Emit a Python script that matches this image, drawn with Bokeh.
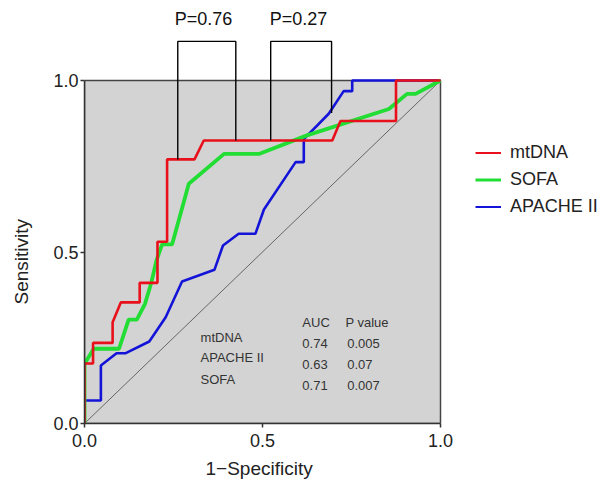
from bokeh.plotting import figure
from bokeh.layouts import row
from bokeh.models import Range1d, FixedTicker, NumeralTickFormatter, Legend, LegendItem, Title
from bokeh.core.properties import value
from bokeh.embed import file_html
from bokeh.resources import INLINE

# ROC curve vertices (1-specificity, sensitivity)
mtdna_fpr = [0, 0, 0.024, 0.024, 0.079, 0.079, 0.102, 0.155, 0.155, 0.205, 0.205, 0.232, 0.232, 0.309, 0.335, 0.696, 0.719, 0.875, 0.875, 1.0]
mtdna_tpr = [0, 0.175, 0.175, 0.235, 0.235, 0.295, 0.353, 0.353, 0.41, 0.41, 0.53, 0.53, 0.77, 0.77, 0.825, 0.825, 0.882, 0.882, 1.0, 1.0]

sofa_fpr = [0, 0, 0.026, 0.097, 0.124, 0.147, 0.170, 0.188, 0.202, 0.218, 0.246, 0.293, 0.392, 0.49, 0.625, 0.855, 0.906, 0.93, 1.0]
sofa_tpr = [0, 0.174, 0.218, 0.218, 0.303, 0.303, 0.349, 0.412, 0.475, 0.522, 0.522, 0.699, 0.786, 0.786, 0.84, 0.917, 0.961, 0.961, 1.0]

apache_fpr = [0, 0, 0.046, 0.046, 0.09, 0.116, 0.182, 0.228, 0.274, 0.365, 0.389, 0.433, 0.48, 0.504, 0.593, 0.616, 0.616, 0.686, 0.728, 0.752, 0.752, 1.0]
apache_tpr = [0, 0.067, 0.067, 0.169, 0.205, 0.205, 0.239, 0.31, 0.414, 0.448, 0.519, 0.553, 0.553, 0.624, 0.762, 0.762, 0.829, 0.903, 0.969, 0.969, 1.0, 1.0]

series_names = ["mtDNA", "SOFA", "APACHE II"]
table_labels = ["mtDNA", "APACHE II", "SOFA"]
table_auc = ["0.74", "0.63", "0.71"]
table_p = ["0.005", "0.07", "0.007"]
p_labels = ["P=0.76", "P=0.27"]
axis_ticks = [0, 0.5, 1.0]
x_title = "1\u2212Specificity"
y_title = "Sensitivity"

FONT = "Liberation Sans"
RED = "#E8101A"
GREEN = "#22DD33"
BLUE = "#1414D8"

# narrow strip whose left title carries the vertical axis title
side = figure(width=44, height=484, x_range=Range1d(0, 1), y_range=Range1d(0, 1),
              x_axis_type=None, y_axis_type=None,
              min_border_left=0, min_border_right=0, min_border_top=0, min_border_bottom=0,
              output_backend="svg", toolbar_location=None)
side.outline_line_color = None
side.grid.visible = False
side.add_layout(Title(text=y_title, align="left", offset=119, standoff=16,
                      text_font=FONT, text_font_size="19px", text_font_style="normal",
                      text_color="#222222"), "left")

p = figure(width=556, height=484,
           x_range=Range1d(0, 516 / 356), y_range=Range1d(0, 423 / 343),
           min_border_left=40, min_border_right=0, min_border_top=0, min_border_bottom=61,
           output_backend="svg", toolbar_location=None)
p.outline_line_color = None
p.grid.visible = False
p.background_fill_color = "white"

# gray panel
p.quad(left=[0], right=[1], bottom=[0], top=[1], fill_color="#D3D3D3", line_color="#444444", line_width=1.5)
# diagonal reference
p.line([0, 1], [0, 1], line_color="#666666", line_width=1)

# curves
p.line(apache_fpr, apache_tpr, line_color=BLUE, line_width=2.6)
p.line(sofa_fpr, sofa_tpr, line_color=GREEN, line_width=3.8)
p.line(mtdna_fpr, mtdna_tpr, line_color=RED, line_width=2.6)

# comparison brackets
top_y = 1.114
br1 = ([0.262, 0.262, 0.425, 0.425], [0.77, top_y, top_y, 0.825])
br2 = ([0.523, 0.523, 0.694, 0.694], [0.825, top_y, top_y, 0.905])
for bx, by in (br1, br2):
    p.line(bx, by, line_color="black", line_width=1.4)
p.text(x=[0.334, 0.601], y=[1.178, 1.178], text=p_labels, text_font=value(FONT),
       text_font_size="18px", text_align="center", text_baseline="middle", text_color="#111111")

# AUC table
tstyle = dict(text_font=value(FONT), text_font_size="13px", text_align="left",
              text_baseline="middle", text_color="#333333")
p.text(x=[0.326] * 3, y=[0.252, 0.1915, 0.128], text=table_labels, **tstyle)
p.text(x=[0.612, 0.733], y=[0.295, 0.295], text=["AUC", "P value"], **tstyle)
p.text(x=[0.612] * 3, y=[0.232, 0.171, 0.111], text=table_auc, **tstyle)
p.text(x=[0.738] * 3, y=[0.232, 0.171, 0.111], text=table_p, **tstyle)

# legend with thinner sample lines (renderers kept off-range)
lr = p.line([-5, -4], [-5, -4], line_color=RED, line_width=2)
lg = p.line([-5, -4], [-5, -4], line_color=GREEN, line_width=3)
lb = p.line([-5, -4], [-5, -4], line_color=BLUE, line_width=2)
legend = Legend(items=[LegendItem(label=series_names[0], renderers=[lr]),
                       LegendItem(label=series_names[1], renderers=[lg]),
                       LegendItem(label=series_names[2], renderers=[lb])],
                location=(391, 203), padding=0, margin=0, spacing=0,
                glyph_width=26, glyph_height=27, label_height=27, label_standoff=9,
                label_text_font=FONT, label_text_font_size="18px", label_text_color="#222222",
                border_line_alpha=0, background_fill_alpha=0)
p.add_layout(legend)

for ax in (p.xaxis[0], p.yaxis[0]):
    ax.bounds = (0, 1)
    ax.ticker = FixedTicker(ticks=axis_ticks)
    ax.formatter = NumeralTickFormatter(format="0.0")
    ax.minor_tick_line_color = None
    ax.major_tick_in = 0
    ax.major_tick_out = 4
    ax.axis_line_color = "#333333"
    ax.axis_line_width = 1.5
    ax.major_tick_line_color = "#333333"
    ax.major_tick_line_width = 1.5
    ax.major_label_text_font = FONT
    ax.major_label_text_font_size = "18px"
    ax.major_label_text_color = "#222222"

p.xaxis.major_label_standoff = 6
p.yaxis.major_label_standoff = 2

# x axis title as a side title so it sits centred on the 0..1 panel
p.add_layout(Title(text=x_title, align="left", offset=121, standoff=12,
                   text_font=FONT, text_font_size="19px", text_font_style="normal",
                   text_color="#222222"), "below")

layout = row(side, p, spacing=0)
open("out.html", "w").write(file_html(layout, INLINE))
